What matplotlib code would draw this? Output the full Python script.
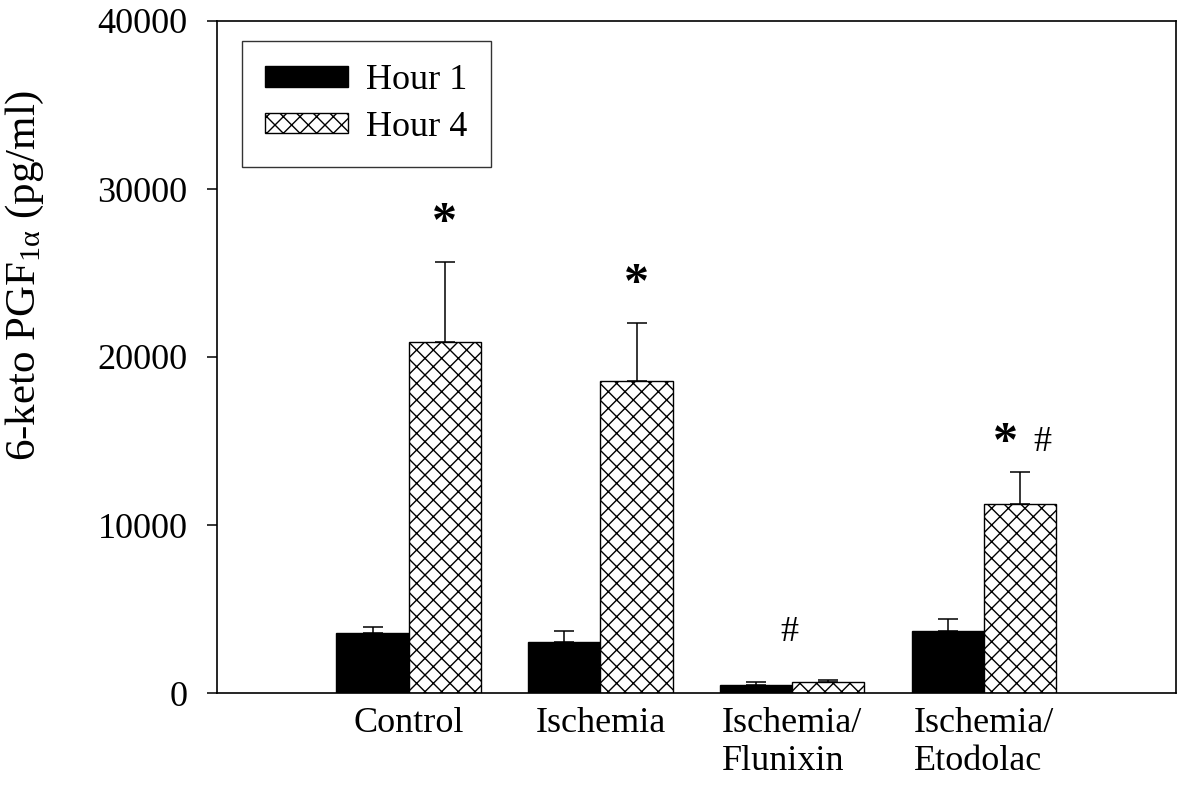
import numpy as np
import matplotlib
matplotlib.use("Agg")
from matplotlib import pyplot as plt

plt.rcParams['font.family'] = ['Liberation Serif', 'DejaVu Serif']
plt.rcParams['mathtext.fontset'] = 'custom'
plt.rcParams['mathtext.rm'] = 'Liberation Serif'
plt.rcParams['mathtext.it'] = 'Liberation Serif:italic'
plt.rcParams['hatch.linewidth'] = 1.0

groups = ["Control", "Ischemia", "Ischemia/\nFlunixin", "Ischemia/\nEtodolac"]
hour1 = [3550, 3050, 500, 3700]
hour1_err = [380, 640, 140, 720]
hour4 = [20900, 18600, 650, 11250]
hour4_err = [4750, 3400, 120, 1880]

# significance marks: (group index, text, x offset px from Hour 4 bar, y offset px above its error cap)
marks = [
    (0, "*", 0, 38),
    (1, "*", 0, 38),
    (2, "#", -39, 48),
    (3, "*", -15, 28),
    (3, "#", 22, 30),
]

fig = plt.figure(figsize=(11.77, 7.93), dpi=100)
ax = fig.add_axes([217 / 1177, 100 / 793, 958.5 / 1177, 672 / 793])

x = np.arange(len(groups))
w = 0.377
err_kw = dict(ecolor="black", elinewidth=1.1, capsize=7.2, capthick=1.1)

ax.bar(x - w / 2, hour1, w, yerr=[np.zeros(len(x)), hour1_err],
       color="black", edgecolor="black", linewidth=1.0,
       error_kw=err_kw, label="Hour 1")
ax.bar(x + w / 2, hour4, w, yerr=[np.zeros(len(x)), hour4_err],
       color="white", edgecolor="black", linewidth=1.0, hatch="xx",
       error_kw=err_kw, label="Hour 4")

tops4 = np.array(hour4) + np.array(hour4_err)
for gi, txt, dx, dy in marks:
    if txt == "*":
        style = dict(fontsize=36, fontweight="bold")
    else:
        style = dict(fontsize=26)
    ax.annotate(txt, xy=(x[gi] + w / 2, tops4[gi]), xytext=(dx, dy),
                textcoords="offset pixels", ha="center", va="center",
                **style)

ax.set_xlim(-1, 4)
ax.set_ylim(0, 40000)
ax.set_yticks([0, 10000, 20000, 30000, 40000])
ax.set_xticks(x)
ax.set_xticklabels(groups, fontsize=26, multialignment="left")
ax.tick_params(axis="x", length=0, pad=10)
ax.tick_params(axis="y", direction="out", length=7.2, width=1.1, pad=14,
               labelsize=26)
for s in ax.spines.values():
    s.set_linewidth(1.2)

ax.set_ylabel("6-keto PGF$_{\\mathrm{1α}}$ (pg/ml)", fontsize=31)
ax.yaxis.set_label_coords(-0.178, 0.622)

leg = ax.legend(loc="upper left", bbox_to_anchor=(0.0258, 0.9707),
                borderaxespad=0, fontsize=26, frameon=True, fancybox=False,
                edgecolor="black", handlelength=2.3, handleheight=0.5,
                handletextpad=0.5, labelspacing=0.38, borderpad=0.65)
leg.get_frame().set_linewidth(1.0)

fig.savefig("out.png", dpi=100)
